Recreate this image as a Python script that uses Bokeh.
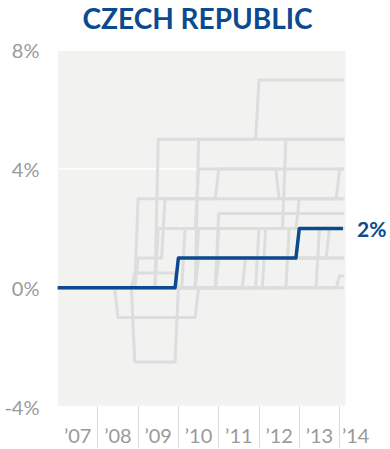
from bokeh.plotting import figure
from bokeh.models import Range1d, FixedTicker, Label
from bokeh.core.properties import value
from bokeh.embed import file_html
from bokeh.resources import INLINE

# ---------------- data ----------------
START = 2007.0
END = 2014 + 1 / 12          # last monthly observation
STEP = 1 / 12                # monthly data

# change in standard rate vs. 2007 (percentage points): (date of change, new level)
czech = [(2010.0, 1), (2013.0, 2)]
others = {
    "hungary": [(2009.5, 5), (2012.0, 7)],
    "romania": [(2010.5, 5)],
    "spain": [(2010.5, 2), (2012 + 8 / 12, 5)],
    "greece": [(2010 + 2 / 12, 2), (2010.5, 4)],
    "cyprus": [(2012 + 2 / 12, 2), (2013.0, 3), (2014.0, 4)],
    "latvia": [(2009.0, 3), (2011.0, 4), (2012.5, 3)],
    "lithuania": [(2009.0, 1), (2009 + 8 / 12, 3)],
    "uk": [(2008 + 11 / 12, -2.5), (2010.0, 0), (2011.0, 2.5)],
    "portugal": [(2008.5, -1), (2010.5, 0), (2011.0, 2)],
    "ireland": [(2008 + 11 / 12, 0.5), (2010.0, 0), (2012.0, 2)],
    "estonia": [(2009.5, 2)],
    "finland": [(2010.5, 1), (2013.0, 2)],
    "netherlands": [(2012.75, 2)],
    "slovenia": [(2013.5, 2)],
    "italy": [(2011 + 8 / 12, 1), (2013.75, 2)],
    "slovakia": [(2011.0, 1)],
    "poland": [(2011.0, 1)],
    "france": [(2014.0, 0.4)],
    "unchanged": [],
}

y_ticks = [-4, 0, 4, 8]
y_labels = ["-4%", "0%", "4%", "8%"]
year_seps = [2008, 2009, 2010, 2011, 2012, 2013, 2014]
year_label_pos = [2007.5, 2008.5, 2009.5, 2010.5, 2011.5, 2012.5, 2013.5, 2014.4]
year_labels = ["\u201907", "\u201908", "\u201909", "\u201910", "\u201911", "\u201912", "\u201913", "\u201914"]

TITLE = "CZECH REPUBLIC"
BLUE = "#0b4a8f"
GRAY_LINE = "#dcdddf"
BG = "#f2f2f0"
TICK_GRAY = "#9a9a9a"


def path(changes):
    xs, ys = [START], [0.0]
    level = 0.0
    for t, v in changes:
        xs += [t - STEP, t]
        ys += [level, v]
        level = v
    xs.append(END)
    ys.append(level)
    return xs, ys


# ---------------- figure ----------------
W, H = 390, 449
FRAME_LEFT, FRAME_BOTTOM = 57, 41
PX_PER_YEAR = 40.3
PX_PER_PCT = (408 - 50) / (y_ticks[-1] - y_ticks[0])
x_end = START + (W - FRAME_LEFT) / PX_PER_YEAR
plot_right = START + 288 / PX_PER_YEAR
y_top = y_ticks[-1] + 50 / PX_PER_PCT

p = figure(width=W, height=H, output_backend="svg", toolbar_location=None,
           x_range=Range1d(START, x_end), y_range=Range1d(y_ticks[0], y_top),
           min_border_left=FRAME_LEFT, min_border_right=0,
           min_border_top=0, min_border_bottom=FRAME_BOTTOM)
p.outline_line_color = None
p.background_fill_color = "white"
p.border_fill_color = "white"
p.xgrid.visible = False
p.ygrid.visible = False

# plot area background and white gridlines
p.quad(left=[START], right=[plot_right], bottom=[y_ticks[0]], top=[y_ticks[-1]],
       fill_color=BG, line_color=None)
p.segment(x0=[START] * len(y_ticks), x1=[plot_right] * len(y_ticks),
          y0=y_ticks, y1=y_ticks, line_color="white", line_width=1.5)

# other series
gx, gy = [], []
for ch in others.values():
    xs, ys = path(ch)
    gx.append(xs)
    gy.append(ys)
p.multi_line(xs=gx, ys=gy, line_color=GRAY_LINE, line_width=3,
             line_join="round", line_cap="round")

# highlighted series
cx, cy = path(czech)
p.line(cx, cy, line_color=BLUE, line_width=3.5, line_join="round")
p.text(x=[cx[-1]], y=[cy[-1]], text=[f"{cy[-1]:.0f}%"], x_offset=14,
       text_baseline="middle", text_align="left",
       text_font=value("Lato"), text_font_style="bold", text_font_size="21px",
       text_color=BLUE)

# title (placed relative to the top-left corner of the plot area)
title = Label(x=START, y=y_ticks[-1], x_offset=25, y_offset=32,
              text=TITLE, text_align="left", text_baseline="alphabetic",
              text_font="Lato", text_font_style="bold", text_font_size="28px",
              text_color=BLUE)
p.add_layout(title)

# y axis
ya = p.yaxis[0]
ya.ticker = FixedTicker(ticks=y_ticks)
ya.major_label_overrides = dict(zip(y_ticks, y_labels))
ya.axis_line_color = None
ya.major_tick_line_color = None
ya.minor_tick_line_color = None
ya.major_label_standoff = 12
ya.major_label_text_font = "Lato"
ya.major_label_text_font_size = "20px"
ya.major_label_text_color = TICK_GRAY

# x axis
xa = p.xaxis[0]
xa.ticker = FixedTicker(ticks=year_label_pos, minor_ticks=year_seps)
xa.major_label_overrides = dict(zip(year_label_pos, year_labels))
xa.axis_line_color = None
xa.major_tick_line_color = None
xa.major_tick_out = 0
xa.minor_tick_in = 0
xa.minor_tick_out = 41
xa.minor_tick_line_color = "#d9d9d9"
xa.minor_tick_line_width = 1
xa.major_label_standoff = 16 - 41
xa.major_label_text_font = "Lato"
xa.major_label_text_font_size = "20px"
xa.major_label_text_color = TICK_GRAY

open("out.html", "w").write(file_html(p, INLINE))
